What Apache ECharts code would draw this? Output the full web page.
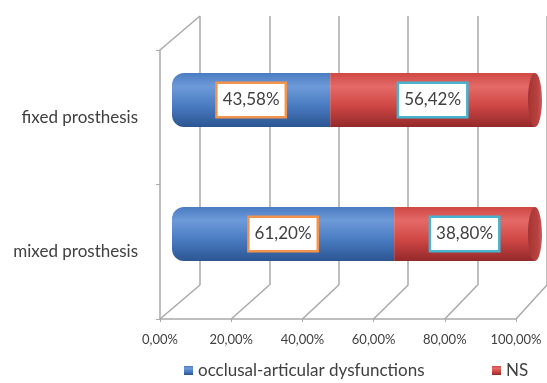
<!DOCTYPE html>
<html lang="en">
<head>
    <meta charset="UTF-8">
    <title>prosthesis</title>
    <script src="https://cdn.jsdelivr.net/npm/echarts@6/dist/echarts.min.js"></script>
    <style>
        html, body { margin: 0; padding: 0; background: #fff; }
        #showDiv { width: 547px; height: 383px; }
    </style>
</head>
<body>
<div id="showDiv"></div>
<script type="text/javascript">
	// data
	var categories = ['fixed prosthesis', 'mixed prosthesis'];
	var dysfunctions = [43.58, 61.20];
	var ns = [56.42, 38.80];
	var tickValues = [0, 20, 40, 60, 80, 100];
	var seriesNames = ['occlusal-articular dysfunctions', 'NS'];

	var FONT = 'Lato, "Open Sans", sans-serif';
	var GRID_GRAY = '#a9a9a9';

	function pct(v) {
		return v.toFixed(2).replace('.', ',') + '%';
	}

	function grad(top, mid, bottom) {
		return new echarts.graphic.LinearGradient(0, 0, 0, 1, [
			{ offset: 0, color: mid },
			{ offset: 0.25, color: top },
			{ offset: 0.6, color: mid },
			{ offset: 1, color: bottom }
		]);
	}

	var dom = document.getElementById('showDiv');
	var myChart = echarts.init(dom);

	var option = {
		animation: false,
		backgroundColor: '#fff',
		grid: [
			{ left: 172, top: 33, width: 363, height: 268 },   // bars
			{ left: 160, top: 50, width: 356, height: 269 },   // front floor + labels
			{ left: 200, top: 16, width: 356, height: 269 }    // back wall
		],
		xAxis: [
			{ gridIndex: 0, type: 'value', min: 0, max: 100, show: false },
			{
				gridIndex: 1, type: 'value', min: 0, max: 100, interval: 20,
				axisLine: { show: true, lineStyle: { color: GRID_GRAY, width: 1.5 } },
				axisTick: { show: true, length: 3, lineStyle: { color: GRID_GRAY } },
				splitLine: { show: false },
				axisLabel: {
					margin: 14, color: '#404040', fontSize: 13, fontFamily: FONT,
					formatter: function (v) { return pct(v); }
				}
			},
			{
				gridIndex: 2, type: 'value', min: 0, max: 100, interval: 20,
				axisLine: { show: false }, axisTick: { show: false }, axisLabel: { show: false },
				splitLine: { show: true, lineStyle: { color: GRID_GRAY, width: 1.5 } }
			}
		],
		yAxis: [
			{ gridIndex: 0, type: 'category', data: categories, inverse: true, show: false },
			{
				gridIndex: 1, type: 'category', data: categories, inverse: true,
				axisLine: { show: true, lineStyle: { color: GRID_GRAY, width: 1.5 } },
				axisTick: { show: true, length: 4, lineStyle: { color: GRID_GRAY } },
				axisLabel: { margin: 22, color: '#404040', fontSize: 17, fontFamily: FONT }
			},
			{ gridIndex: 2, type: 'category', data: categories, inverse: true, show: false }
		],
		legend: [
			{
				data: [seriesNames[0]], left: 179, top: 357, itemWidth: 9, itemHeight: 9, icon: 'rect', itemGap: 4,
				textStyle: { color: '#404040', fontSize: 17, fontFamily: FONT }
			},
			{
				data: [seriesNames[1]], left: 487, top: 357, itemWidth: 9, itemHeight: 9, icon: 'rect',
				textStyle: { color: '#404040', fontSize: 17, fontFamily: FONT }
			}
		],
		series: [
			{
				name: seriesNames[0], type: 'bar', stack: 'all', xAxisIndex: 0, yAxisIndex: 0,
				barWidth: 54, data: dysfunctions, color: '#4a7cc2',
				itemStyle: { color: grad('#6e9ad8', '#4a7cc2', '#2c5592'), borderRadius: [12, 0, 0, 12] },
				label: {
					show: true, position: 'inside', color: '#404040', fontSize: 17, fontFamily: FONT,
					backgroundColor: '#fff', borderColor: '#f3944a', borderWidth: 2.5, padding: [8, 5, 7, 5],
					formatter: function (p) { return pct(p.value); }
				}
			},
			{
				name: seriesNames[1], type: 'bar', stack: 'all', xAxisIndex: 0, yAxisIndex: 0,
				barWidth: 54, data: ns, color: '#c8423f',
				itemStyle: { color: grad('#e46a67', '#cf4845', '#94292a') },
				label: {
					show: true, position: 'inside', color: '#404040', fontSize: 17, fontFamily: FONT,
					backgroundColor: '#fff', borderColor: '#48b3cf', borderWidth: 2.5, padding: [8, 5, 7, 5],
					formatter: function (p) { return pct(p.value); }
				}
			},
			{
				// end cap of the cylinders
				type: 'custom', xAxisIndex: 0, yAxisIndex: 0, silent: true, z: 3,
				data: categories.map(function (c, i) { return [dysfunctions[i] + ns[i], i]; }),
				renderItem: function (params, api) {
					var p = api.coord([api.value(0), api.value(1)]);
					return {
						type: 'ellipse',
						shape: { cx: p[0], cy: p[1], rx: 7, ry: 27 },
						style: {
							fill: new echarts.graphic.LinearGradient(0, 0, 1, 0, [
								{ offset: 0, color: '#a33533' },
								{ offset: 0.7, color: '#b94240' },
								{ offset: 1, color: '#cc5a57' }
							])
						}
					};
				}
			}
		]
	};

	myChart.setOption(option, true);

	// floor diagonals linking the front axis to the back wall
	var frontY = 50 + 269, backY = 16 + 269;
	var lines = tickValues.map(function (v) {
		var fx = myChart.convertToPixel({ xAxisIndex: 1 }, v);
		var bx = myChart.convertToPixel({ xAxisIndex: 2 }, v);
		return {
			type: 'line', silent: true,
			shape: { x1: fx, y1: frontY, x2: bx, y2: backY },
			style: { stroke: GRID_GRAY, lineWidth: 1.5 }
		};
	});
	// top edge of the side wall
	lines.push({
		type: 'line', silent: true,
		shape: { x1: 160, y1: 50, x2: myChart.convertToPixel({ xAxisIndex: 2 }, 0), y2: 16 },
		style: { stroke: GRID_GRAY, lineWidth: 1.5 }
	});
	myChart.setOption({ graphic: lines });
</script>
</body>
</html>
